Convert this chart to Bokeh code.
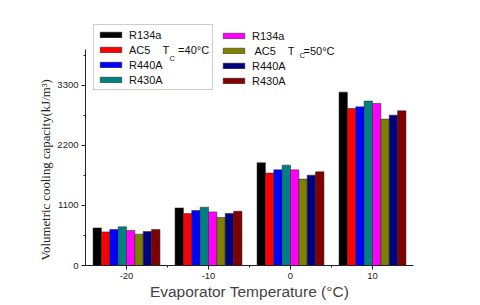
from bokeh.plotting import figure
from bokeh.models import Legend, LegendItem, FixedTicker, Label, ColumnDataSource, Title
from bokeh.embed import file_html
from bokeh.resources import INLINE

temps = [-20, -10, 0, 10]
temp_labels = ["-20", "-10", "0", "10"]
series_names = ["R134a", "AC5    T   =40°C", "R440A", "R430A",
                "R134a", " AC5    T   =50°C", "R440A", "R430A"]
colors = ["#000000", "#FF0000", "#0000FF", "#008080",
          "#FF00FF", "#808000", "#000080", "#800000"]
r134a_40 = [688, 1054, 1880, 3173]
ac5_40 = [615, 952, 1691, 2873]
r440a_40 = [659, 1007, 1751, 2904]
r430a_40 = [707, 1067, 1837, 3009]
r134a_50 = [641, 981, 1751, 2965]
ac5_50 = [573, 878, 1581, 2679]
r440a_50 = [622, 952, 1654, 2752]
r430a_50 = [659, 994, 1715, 2831]
series = [r134a_40, ac5_40, r440a_40, r430a_40, r134a_50, ac5_50, r440a_50, r430a_50]
y_ticks = [0, 1100, 2200, 3300]
y_axis_top = 3950

p = figure(width=479, height=304, output_backend="svg", toolbar_location=None,
           x_range=(-25, 15), y_range=(0, 4667),
           min_border_left=85, min_border_right=66, min_border_top=10, min_border_bottom=39)
p.outline_line_color = None
p.xgrid.visible = False
p.ygrid.visible = False

bw = 1.02
renderers = []
for i, (vals, c) in enumerate(zip(series, colors)):
    off = (i - 3.5) * bw
    src = ColumnDataSource(dict(x=[t + off for t in temps], top=vals))
    r = p.vbar(x="x", top="top", width=bw, source=src, fill_color=c,
               line_color="#222222", line_width=0.5)
    renderers.append(r)

p.xaxis.ticker = FixedTicker(ticks=temps, minor_ticks=[-15, -5, 5])
p.xaxis.major_label_overrides = {t: s for t, s in zip(temps, temp_labels)}
p.yaxis.ticker = FixedTicker(ticks=y_ticks, minor_ticks=[550, 1650, 2750, 3850])
p.yaxis.bounds = (0, y_axis_top)
for ax in (p.xaxis, p.yaxis):
    ax.major_tick_in = 0
    ax.major_tick_out = 4
    ax.minor_tick_in = 0
    ax.minor_tick_out = 2
    ax.axis_line_color = "#222222"
    ax.major_tick_line_color = "#222222"
    ax.minor_tick_line_color = "#222222"
    ax.major_label_text_font = "Liberation Sans"
    ax.major_label_text_font_size = "9.5px"
    ax.major_label_text_color = "#222222"
    ax.major_label_standoff = 3

p.xaxis.axis_label = "Evaporator Temperature (°C)"
p.xaxis.axis_label_text_font = "Liberation Sans"
p.xaxis.axis_label_text_font_style = "normal"
p.xaxis.axis_label_text_font_size = "15.5px"
p.xaxis.axis_label_standoff = 1

ytitle = Title(text="Volumetric cooling capacity(kJ/m³)", align="left",
               text_font="Liberation Serif", text_font_style="normal",
               text_font_size="12.8px", text_color="#222222", offset=5, standoff=4)
p.add_layout(ytitle, "left")

def make_legend(idx, loc, border):
    items = [LegendItem(label=series_names[k], renderers=[renderers[k]]) for k in idx]
    lg = Legend(items=items, location=loc, glyph_width=27, glyph_height=7,
                label_height=13, spacing=2, padding=3, margin=0,
                label_standoff=5, label_text_font="Liberation Sans",
                label_text_font_size="11px", label_text_color="#111111",
                background_fill_alpha=0,
                border_line_color="#999999" if border else None)
    return lg

p.add_layout(make_legend([0, 1, 2, 3], (8, 175), True))
p.add_layout(make_legend([4, 5, 6, 7], (135, 178), False))

for (x, y) in [(84, 207), (214, 210)]:
    p.add_layout(Label(x=x, y=y, x_units="screen", y_units="screen", text="C",
                       text_font="Liberation Sans", text_font_size="7.5px",
                       text_color="#111111", text_baseline="alphabetic",
                       level="overlay"))

open("out.html", "w").write(file_html(p, INLINE))
